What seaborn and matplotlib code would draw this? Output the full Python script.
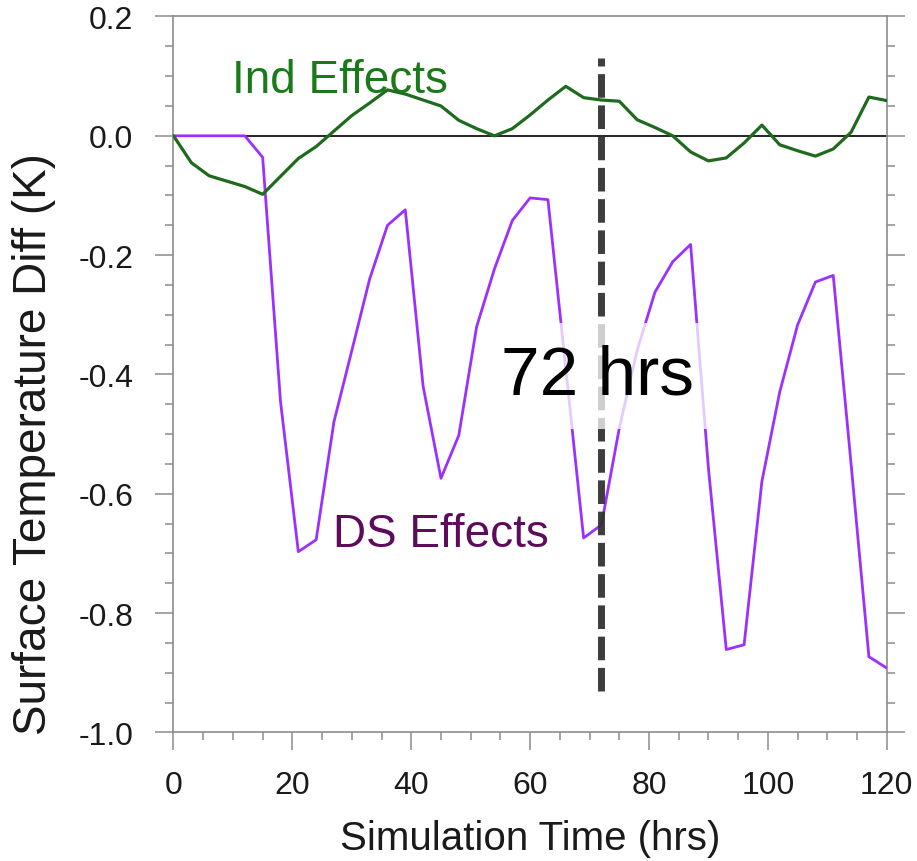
import matplotlib
matplotlib.use("Agg")
import matplotlib.pyplot as plt
from matplotlib.ticker import MultipleLocator, FormatStrFormatter
import pandas as pd
import seaborn as sns

# Simulation output, every 3 hours
hours = list(range(0, 121, 3))
ind_effects = [0.0, -0.045, -0.067, -0.076, -0.085,
               -0.098, -0.068, -0.038, -0.018, 0.008,
               0.034, 0.055, 0.077, 0.070, 0.060,
               0.050, 0.026, 0.012, 0.000, 0.012,
               0.035, 0.060, 0.083, 0.064, 0.060,
               0.058, 0.027, 0.014, 0.000, -0.027,
               -0.042, -0.037, -0.012, 0.018, -0.015,
               -0.025, -0.034, -0.022, 0.006, 0.065,
               0.059]
ds_effects = [0.0, 0.0, 0.0, 0.0, 0.0,
              -0.036, -0.445, -0.697, -0.677, -0.479,
              -0.360, -0.240, -0.150, -0.124, -0.420,
              -0.574, -0.502, -0.320, -0.223, -0.142,
              -0.104, -0.107, -0.390, -0.674, -0.652,
              -0.490, -0.360, -0.262, -0.211, -0.182,
              -0.557, -0.861, -0.853, -0.579, -0.429,
              -0.317, -0.245, -0.234, -0.550, -0.873,
              -0.892]
marker_hour = 72
marker_label = "72 hrs"
ind_label = "Ind Effects"
ds_label = "DS Effects"

df = pd.DataFrame({"hour": hours, "ind": ind_effects, "ds": ds_effects})

sns.set_theme(style="white")
plt.rcParams["font.family"] = ["Liberation Sans", "DejaVu Sans"]
plt.rcParams["axes.unicode_minus"] = False

fig = plt.figure(figsize=(9.17, 8.62), dpi=100)
ax = fig.add_axes([0.1892, 0.1491, 0.7778, 0.8306])

ax.axhline(0.0, color="black", lw=1.2, zorder=1)
sns.lineplot(data=df, x="hour", y="ds", ax=ax, color="#9b30ff", lw=2.0, zorder=3)
sns.lineplot(data=df, x="hour", y="ind", ax=ax, color="#1e6b1e", lw=2.3, zorder=3)

# vertical marker at the chosen hour
ax.plot([marker_hour, marker_hour], [-0.93, 0.131], color="#333333", lw=5,
        dashes=(3.4, 1.1), alpha=0.95, zorder=4, solid_capstyle="butt")

ax.text(71.3, -0.402, marker_label, ha="center", va="center", fontsize=50,
        color="black", zorder=6,
        bbox=dict(boxstyle="square,pad=0.3", fc="white", ec="none", alpha=0.75))

ax.text(9.9, 0.074, ind_label, ha="left", va="baseline", fontsize=33,
        color="#1a7a1a", zorder=5)
ax.text(26.9, -0.6875, ds_label, ha="left", va="baseline", fontsize=33,
        color="#5e0b5e", zorder=5)

ax.set_xlim(0, 120)
ax.set_ylim(-1.0, 0.2)
ax.xaxis.set_major_locator(MultipleLocator(20))
ax.xaxis.set_minor_locator(MultipleLocator(5))
ax.yaxis.set_major_locator(MultipleLocator(0.2))
ax.yaxis.set_minor_locator(MultipleLocator(0.05))
ax.yaxis.set_major_formatter(FormatStrFormatter("%.1f"))

spine_color = "#8c8c8c"
for side, sp in ax.spines.items():
    sp.set_color(spine_color)
    sp.set_linewidth(1.2)
    sp.set_visible(True)

ax.tick_params(which="both", direction="out", color=spine_color, width=1.1,
               left=True, right=True, bottom=True, top=False,
               labelright=False, labelcolor="#1a1a1a")
ax.tick_params(which="major", length=13)
ax.tick_params(which="minor", length=6)
ax.tick_params(axis="x", which="major", labelsize=23, pad=14)
ax.tick_params(axis="y", which="major", labelsize=23, pad=16)

ax.set_xlabel("Simulation Time (hrs)", fontsize=29, color="#1a1a1a", va="baseline")
ax.xaxis.set_label_coords(0.5, -0.1627)
ax.set_ylabel("Surface Temperature Diff (K)", fontsize=33, color="#1a1a1a", va="center")
ax.yaxis.set_label_coords(-0.195, 0.404)

fig.savefig("out.png", dpi=100)
